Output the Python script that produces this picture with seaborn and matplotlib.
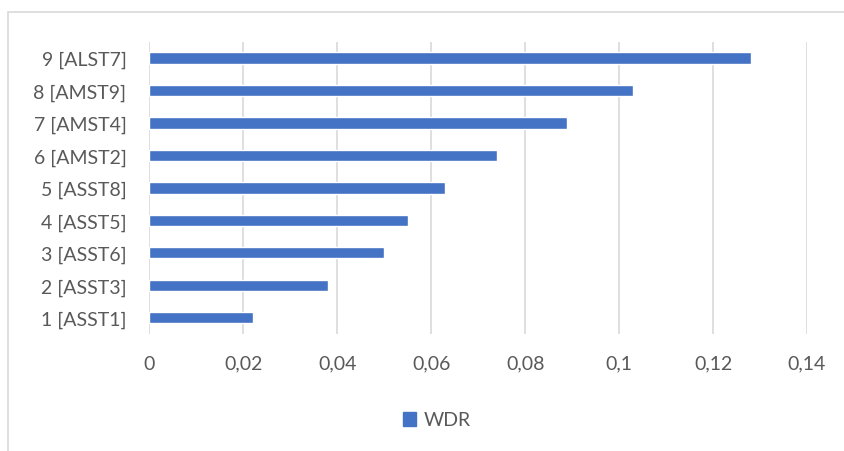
import matplotlib
matplotlib.use("Agg")
import matplotlib.pyplot as plt
import matplotlib.patches as mpatches
from matplotlib.ticker import FixedLocator
import seaborn as sns
import pandas as pd

categories = ["9 [ALST7]", "8 [AMST9]", "7 [AMST4]", "6 [AMST2]", "5 [ASST8]",
              "4 [ASST5]", "3 [ASST6]", "2 [ASST3]", "1 [ASST1]"]
wdr_values = [0.128, 0.103, 0.089, 0.074, 0.063, 0.055, 0.050, 0.038, 0.022]
series_name = "WDR"
x_ticks = [0, 0.02, 0.04, 0.06, 0.08, 0.1, 0.12, 0.14]
x_tick_labels = ["0", "0,02", "0,04", "0,06", "0,08", "0,1", "0,12", "0,14"]

df = pd.DataFrame({"cat": categories, "val": wdr_values, "series": series_name})

sns.set_theme(style="white")
plt.rcParams['font.family'] = ['Lato', 'DejaVu Sans']

fig = plt.figure(figsize=(8.45, 4.52), dpi=100)
ax = fig.add_axes([149.3 / 845, 1 - 335 / 452, (807 - 149.3) / 845, (335 - 42.7) / 452])

bar_color = "#4472C4"
sns.barplot(data=df, y="cat", x="val", hue="series", order=categories,
            palette=[bar_color], saturation=1, orient="h", width=0.35,
            ax=ax, legend=False)

ax.set_xlim(0, 0.14)
ax.set_ylim(8.5, -0.5)
ax.xaxis.set_major_locator(FixedLocator(x_ticks))
ax.set_xticklabels(x_tick_labels)
ax.grid(axis="x", color="#D9D9D9", linewidth=1.2)
ax.grid(axis="y", visible=False)
ax.set_axisbelow(True)
for s in ax.spines.values():
    s.set_visible(False)
ax.set_xlabel("")
ax.set_ylabel("")
ax.tick_params(axis="both", length=0, colors="#595959", labelsize=14)
ax.tick_params(axis="y", pad=16.5)
ax.tick_params(axis="x", pad=15)

handle = mpatches.Patch(color=bar_color, label=series_name)
fig.legend(handles=[handle], labels=[series_name], loc="center",
           bbox_to_anchor=(437 / 845, 1 - 421 / 452), frameon=False,
           fontsize=14, labelcolor="#595959", handlelength=0.7,
           handleheight=0.7, handletextpad=0.4)

border = mpatches.Rectangle((8 / 845, -0.2), 1.2, 0.2 + (1 - 13.3 / 452),
                            transform=fig.transFigure, fill=False,
                            edgecolor="#D9D9D9", linewidth=1.2, clip_on=False)
fig.patches.append(border)

fig.savefig("out.png", dpi=100, facecolor="white")
